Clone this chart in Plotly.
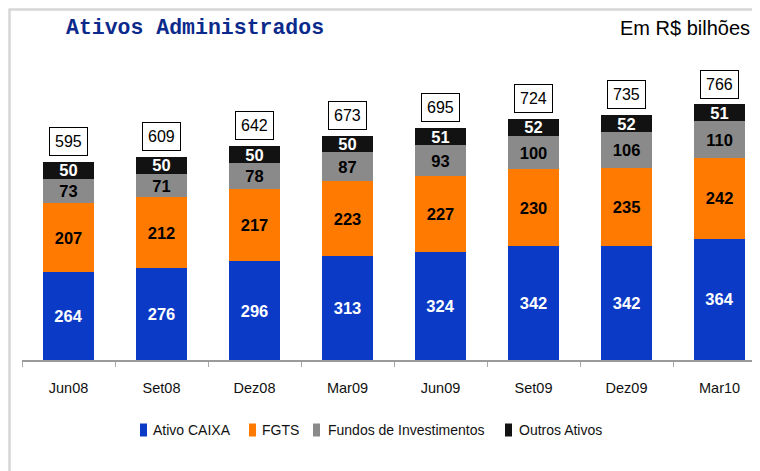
import plotly.graph_objects as go

# ---------------- data ----------------
categories = ["Jun08", "Set08", "Dez08", "Mar09", "Jun09", "Set09", "Dez09", "Mar10"]
ativo_caixa = [264, 276, 296, 313, 324, 342, 342, 364]
fgts = [207, 212, 217, 223, 227, 230, 235, 242]
fundos = [73, 71, 78, 87, 93, 100, 106, 110]
outros = [50, 50, 50, 50, 51, 52, 52, 51]
totals = [595, 609, 642, 673, 695, 724, 735, 766]

series_names = ["Ativo CAIXA", "FGTS", "Fundos de Investimentos", "Outros Ativos"]
series_values = [ativo_caixa, fgts, fundos, outros]
series_colors = ["#0A3AC6", "#FF7A00", "#8A8A8A", "#121212"]
text_colors = ["white", "black", "black", "white"]

title_text = "Ativos Administrados"
unit_text = "Em R$ bilhões"

# ---------------- layout geometry ----------------
OFF = 8                      # page body margin
W, H = 760 - OFF, 471 - OFF
ML, MR, MT, MB = 22 - OFF, 0, 60 - OFF, 471 - 360
PW, PH = W - ML - MR, H - MT - MB

def px(x):   # page pixel -> paper
    return (x - OFF - ML) / PW

def py(y):
    return (H - MB - (y - OFF)) / PH

SANS = "Liberation Sans, Arial, sans-serif"

fig = go.Figure()
for name, vals, col, tcol in zip(series_names, series_values, series_colors, text_colors):
    fig.add_trace(go.Bar(
        x=categories, y=vals, name=name,
        marker=dict(color=col, line=dict(width=0)),
        width=0.54,
        text=vals, textposition="inside", insidetextanchor="middle",
        textangle=0, constraintext="none",
        textfont=dict(family=SANS, size=16.5, color=tcol, weight="bold"),
        showlegend=False, hoverinfo="skip",
    ))

annotations = []
for c, t in zip(categories, totals):
    annotations.append(dict(
        x=c, y=t, xref="x", yref="y", text=str(t), showarrow=False,
        yanchor="bottom", yshift=6,
        font=dict(family=SANS, size=16, color="black"),
        bgcolor="white", bordercolor="black", borderwidth=1, borderpad=5,
    ))

# title & unit
annotations.append(dict(
    x=px(64), y=py(28), xref="paper", yref="paper", xanchor="left", yanchor="middle",
    text="<b>" + title_text + "</b>", showarrow=False,
    font=dict(family="Liberation Mono, Courier New, monospace", size=21.5, color="#0B2A8C"),
))
annotations.append(dict(
    x=px(752), y=py(28), xref="paper", yref="paper", xanchor="right", yanchor="middle",
    text=unit_text, showarrow=False,
    font=dict(family=SANS, size=20, color="black"),
))

# custom legend
legend_sq_x = [140, 249, 313, 505]
legend_txt_x = [151, 260, 326, 517]
shapes = []
for name, col, sx, tx in zip(series_names, series_colors, legend_sq_x, legend_txt_x):
    shapes.append(dict(type="rect", xref="paper", yref="paper",
                       x0=px(sx), x1=px(sx + 7), y0=py(436.5), y1=py(423.5),
                       fillcolor=col, line=dict(width=0)))
    annotations.append(dict(
        x=px(tx), y=py(430), xref="paper", yref="paper", xanchor="left", yanchor="middle",
        text=name, showarrow=False,
        font=dict(family=SANS, size=14, color="#111111"),
    ))

# outer frame (cut at right/bottom)
shapes.append(dict(type="rect", xref="paper", yref="paper",
                   x0=px(9.5), x1=px(790), y0=py(9.5), y1=py(500),
                   line=dict(color="#D6D6D6", width=2.5), fillcolor="rgba(0,0,0,0)", layer="below"))

fig.update_layout(
    width=W, height=H,
    margin=dict(l=ML, r=MR, t=MT, b=MB, pad=0),
    barmode="stack", bargap=0.46,
    paper_bgcolor="white", plot_bgcolor="white",
    uniformtext=dict(minsize=16.5, mode="show"),
    annotations=annotations, shapes=shapes,
    xaxis=dict(
        type="category", range=[-0.5, 7.435], fixedrange=True,
        showline=True, linecolor="#9A9A9A", linewidth=2,
        ticks="outside", tickson="boundaries", ticklen=5, tickcolor="#A8A8A8", tickwidth=1,
        tickfont=dict(family=SANS, size=14.5, color="#111111"),
        ticklabelstandoff=14, showgrid=False, zeroline=False,
    ),
    yaxis=dict(range=[0, 900], visible=False, showgrid=False, zeroline=False),
    showlegend=False,
)

fig.write_html("out.html")
